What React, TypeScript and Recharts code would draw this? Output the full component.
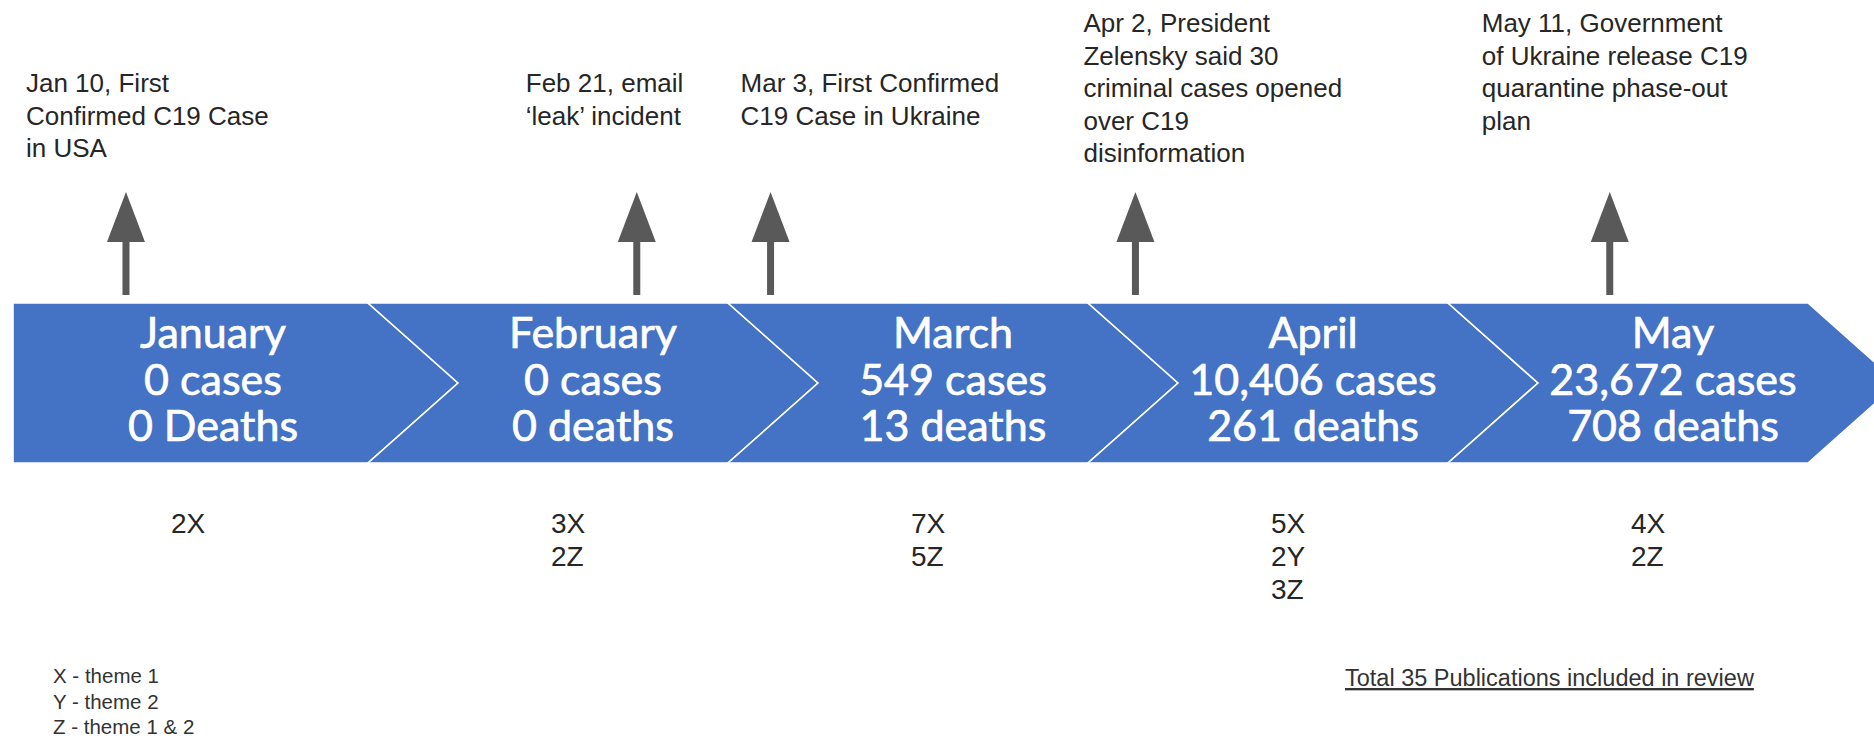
import React from 'react';
import { ComposedChart, Bar, Scatter, XAxis, YAxis } from 'recharts';

// ---------------- data ----------------
const months = ['January', 'February', 'March', 'April', 'May'];
const monthCases = [0, 0, 549, 10406, 23672];
const monthDeaths = [0, 0, 13, 261, 708];
const deathWords = ['Deaths', 'deaths', 'deaths', 'deaths', 'deaths'];

const theme1Counts = [2, 3, 7, 5, 4]; // X
const theme2Counts = [0, 0, 0, 2, 0]; // Y
const themeBothCounts = [0, 2, 5, 3, 2]; // Z
const themeLetters = ['X', 'Y', 'Z'];
const themeNames = ['theme 1', 'theme 2', 'theme 1 & 2'];

const eventDayOfYear = [10, 52, 63, 93, 132]; // 2020: Jan 10, Feb 21, Mar 3, Apr 2, May 11
const eventTexts = [
  ['Jan 10, First', 'Confirmed C19 Case', 'in USA'],
  ['Feb 21, email', '\u2018leak\u2019 incident'],
  ['Mar 3, First Confirmed', 'C19 Case in Ukraine'],
  ['Apr 2, President', 'Zelensky said 30', 'criminal cases opened', 'over C19', 'disinformation'],
  ['May 11, Government', 'of Ukraine release C19', 'quarantine phase-out', 'plan'],
];

// ---------------- layout / style ----------------
const W = 1874;
const H = 738;
const PLOT_LEFT = 53;
const PLOT_RIGHT = 1853;
const BAND_RANGE = [303, 463];
const NOTCH = 45;
const FIRST_LEAD = 40;
const DAY_DOMAIN = [4, 152];
const ARROW_BASE = 295;
const ARROW_NECK = 53;
const ARROW_HEAD = 50;
const ARROW_HEAD_HALF = 19;
const ARROW_SHAFT_HALF = 3.5;
const EVENT_LABEL_DX = [-100, -111, -30, -52, -128];
const EVENT_LABEL_BASELINE = [92, 92, 92, 32, 32];
const EVENT_LINE_STEP = 32.5;
const BLUE = '#4472C4';
const ARROW_COLOR = '#595959';
const TEXT_COLOR = '#262626';
const SANS = '"Liberation Sans", Arial, sans-serif';

const monthRows = months.map((m, i) => ({ month: m, idx: i, band: BAND_RANGE }));
const eventRows = eventDayOfYear.map((d, i) => ({ doy: d, y: ARROW_BASE, idx: i }));
const totalPubs = [...theme1Counts, ...theme2Counts, ...themeBothCounts].reduce((a, b) => a + b, 0);

const themeLines = (i: number) => {
  const out: string[] = [];
  if (theme1Counts[i]) out.push(`${theme1Counts[i]}${themeLetters[0]}`);
  if (theme2Counts[i]) out.push(`${theme2Counts[i]}${themeLetters[1]}`);
  if (themeBothCounts[i]) out.push(`${themeBothCounts[i]}${themeLetters[2]}`);
  return out;
};

const ChevronShape = (props: any) => {
  const { x, y, width, height, payload } = props;
  const i = payload.idx;
  const top = Math.min(y, y + height);
  const bottom = Math.max(y, y + height);
  const mid = (top + bottom) / 2;
  const first = i === 0;
  const right = x + width - NOTCH;
  const pts = first
    ? [[x - FIRST_LEAD, top], [right, top], [right + 2 * NOTCH, mid], [right, bottom], [x - FIRST_LEAD, bottom]]
    : [[x - NOTCH, top], [right, top], [right + 2 * NOTCH, mid], [right, bottom], [x - NOTCH, bottom], [x + NOTCH, mid]];
  const cxText = first ? (x - FIRST_LEAD + x + width) / 2 : x + width / 2;
  const lines = [
    months[i],
    `${monthCases[i].toLocaleString('en-US')} cases`,
    `${monthDeaths[i].toLocaleString('en-US')} ${deathWords[i]}`,
  ];
  const tl = themeLines(i);
  return (
    <g>
      <polygon points={pts.map((p) => p.join(',')).join(' ')} fill={BLUE} stroke="#ffffff" strokeWidth={1.6} />
      {lines.map((t, k) => (
        <text key={k} x={cxText} y={mid - 35 + k * 46.5} textAnchor="middle" fill="#ffffff"
          stroke="#ffffff" strokeWidth={0.7}
          fontFamily="Lato, sans-serif" fontSize={43}>{t}</text>
      ))}
      {tl.map((t, k) => (
        <text key={'t' + k} x={cxText - 42} y={bottom + 70 + k * 33} textAnchor="start" fill={TEXT_COLOR}
          fontFamily={SANS} fontSize={28}>{t}</text>
      ))}
    </g>
  );
};

const EventShape = (props: any) => {
  const { cx, cy, payload } = props;
  const i = payload.idx;
  const neck = cy - ARROW_NECK;
  const tip = neck - ARROW_HEAD;
  return (
    <g>
      <rect x={cx - ARROW_SHAFT_HALF} y={neck - 1} width={ARROW_SHAFT_HALF * 2} height={ARROW_NECK + 1} fill={ARROW_COLOR} />
      <polygon points={`${cx - ARROW_HEAD_HALF},${neck} ${cx + ARROW_HEAD_HALF},${neck} ${cx},${tip}`} fill={ARROW_COLOR} />
      {eventTexts[i].map((t, k) => (
        <text key={k} x={cx + EVENT_LABEL_DX[i]} y={EVENT_LABEL_BASELINE[i] + k * EVENT_LINE_STEP}
          fill={TEXT_COLOR} fontFamily={SANS} fontSize={26}>{t}</text>
      ))}
    </g>
  );
};

export default function App() {
  return (
    <div style={{ position: 'absolute', left: 0, top: 0, width: W, height: H, background: '#ffffff', overflow: 'hidden' }}>
      <ComposedChart
        width={W}
        height={H}
        data={monthRows}
        margin={{ top: 0, right: W - PLOT_RIGHT, bottom: 0, left: PLOT_LEFT }}
        barCategoryGap={0}
        barGap={0}
      >
        <XAxis xAxisId="m" dataKey="month" type="category" hide />
        <XAxis xAxisId="day" dataKey="doy" type="number" domain={DAY_DOMAIN} hide />
        <YAxis dataKey="y" type="number" domain={[0, H]} reversed hide />
        <Bar xAxisId="m" dataKey="band" shape={ChevronShape} isAnimationActive={false} />
        <Scatter xAxisId="day" data={eventRows} dataKey="y" shape={EventShape} isAnimationActive={false} />
        <g>
          {themeLetters.map((l, k) => (
            <text key={k} x={53} y={683 + k * 25.5} fill="#333333" fontFamily={SANS} fontSize={20.5}>
              {`${l} - ${themeNames[k]}`}
            </text>
          ))}
          <text x={1345} y={686} fill="#333333" fontFamily={SANS} fontSize={23.5} textDecoration="underline">
            {`Total ${totalPubs} Publications included in review`}
          </text>
        </g>
      </ComposedChart>
    </div>
  );
}
